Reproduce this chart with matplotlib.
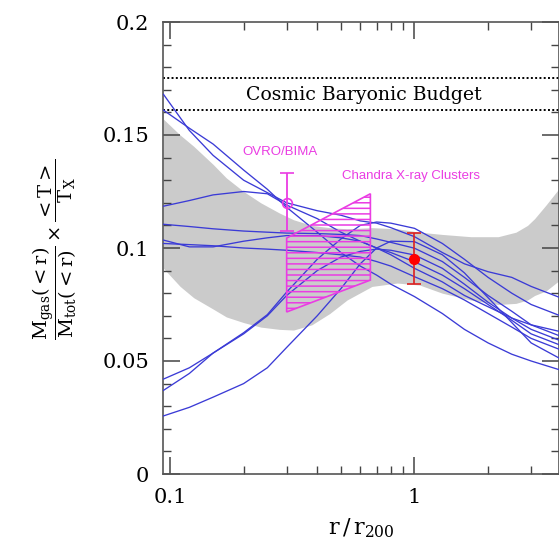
import numpy as np
import matplotlib.pyplot as plt
from matplotlib.ticker import FixedLocator, NullFormatter

r_grid = [0.094, 0.12, 0.15, 0.2, 0.25, 0.3, 0.4, 0.5, 0.6, 0.7, 0.8, 1.0,
          1.3, 1.6, 2.0, 2.5, 3.0, 3.95]

curve_a = [0.168, 0.152, 0.141, 0.130, 0.1245, 0.120, 0.1165, 0.1145, 0.112, 0.111, 0.109, 0.105,
           0.098, 0.093, 0.0895, 0.087, 0.083, 0.078]
curve_b = [0.161, 0.153, 0.146, 0.1345, 0.126, 0.118, 0.107, 0.098, 0.092, 0.088, 0.084, 0.0785,
           0.071, 0.064, 0.058, 0.053, 0.050, 0.046]
curve_c = [0.1185, 0.121, 0.1235, 0.125, 0.124, 0.119, 0.113, 0.107, 0.103, 0.100, 0.097, 0.091,
           0.085, 0.079, 0.074, 0.069, 0.066, 0.063]
curve_d = [0.1105, 0.1095, 0.1085, 0.1075, 0.107, 0.1066, 0.1064, 0.106, 0.1055, 0.104, 0.1025, 0.0999,
           0.094, 0.087, 0.079, 0.072, 0.066, 0.061]
curve_e = [0.1035, 0.1005, 0.1005, 0.103, 0.1045, 0.1055, 0.1055, 0.1045, 0.103, 0.100, 0.098, 0.0939,
           0.088, 0.082, 0.075, 0.068, 0.062, 0.057]
curve_f = [0.102, 0.1015, 0.101, 0.100, 0.0995, 0.099, 0.098, 0.097, 0.096, 0.094, 0.092, 0.0873,
           0.082, 0.077, 0.071, 0.065, 0.060, 0.055]
curve_g = [0.042, 0.047, 0.0535, 0.0625, 0.0705, 0.0805, 0.095, 0.104, 0.110, 0.1115, 0.111, 0.1087,
           0.102, 0.095, 0.087, 0.080, 0.075, 0.070]
curve_h = [0.037, 0.0445, 0.0535, 0.062, 0.070, 0.079, 0.090, 0.096, 0.0985, 0.0995, 0.099, 0.0969,
           0.091, 0.084, 0.076, 0.069, 0.064, 0.059]
curve_i = [0.0257, 0.0295, 0.034, 0.040, 0.047, 0.056, 0.070, 0.082, 0.093, 0.100, 0.103, 0.1028,
           0.097, 0.089, 0.078, 0.067, 0.058, 0.051]

# grey band
band_r = [0.094, 0.11, 0.125, 0.15, 0.17, 0.2, 0.235, 0.28, 0.32, 0.38, 0.45, 0.53, 0.67, 0.85,
          1.05, 1.3, 1.7, 2.2, 2.6, 2.9, 3.1, 3.45, 3.95]
band_hi = [0.157, 0.150, 0.145, 0.137, 0.131, 0.125, 0.120, 0.1155, 0.1125, 0.110, 0.109, 0.1085,
           0.109, 0.1085, 0.107, 0.106, 0.105, 0.105, 0.107, 0.110, 0.113, 0.119, 0.127]
band_lo = [0.091, 0.083, 0.078, 0.073, 0.0695, 0.067, 0.065, 0.064, 0.0637, 0.066, 0.071, 0.077,
           0.083, 0.0845, 0.0836, 0.080, 0.077, 0.075, 0.0755, 0.077, 0.079, 0.081, 0.086]

# Chandra X-ray clusters region
chandra_r = [0.30, 0.66, 0.66, 0.30]
chandra_f = [0.1044, 0.124, 0.0858, 0.0717]

# OVRO/BIMA point
ovro_r, ovro_f, ovro_lo, ovro_hi = 0.30, 0.120, 0.0125, 0.013
# red point
red_r, red_f, red_lo, red_hi = 1.0, 0.095, 0.011, 0.0116

baryon_lo, baryon_hi = 0.161, 0.1752

magenta = '#ea3ce3'
blue = '#3b3bd6'

plt.rcParams['mathtext.fontset'] = 'dejavuserif'
plt.rcParams['hatch.linewidth'] = 1.1

fig = plt.figure(figsize=(5.59, 5.44), dpi=100)
ax = fig.add_axes([163/559, 1-474/544, 1-163/559, (474-22)/544])

ax.fill_between(band_r, band_lo, band_hi, color='#cbcbcb', lw=0, zorder=1)

for c in [curve_a, curve_b, curve_c, curve_d, curve_e, curve_f, curve_g, curve_h, curve_i]:
    ax.plot(r_grid, c, color=blue, lw=0.95, zorder=3)

ax.fill(chandra_r, chandra_f, facecolor='none', edgecolor=magenta, hatch='---', lw=1.2, zorder=4)

ax.errorbar([ovro_r], [ovro_f], yerr=[[ovro_lo], [ovro_hi]], fmt='o', mfc='none', mec=magenta,
            ms=7, mew=1.2, ecolor=magenta, elinewidth=1.3, capsize=5, capthick=1.3, zorder=5)
ax.errorbar([red_r], [red_f], yerr=[[red_lo], [red_hi]], fmt='o', color='red', ms=7,
            ecolor='#dd2020', elinewidth=1.2, capsize=5, capthick=1.2, zorder=5)

ax.axhline(baryon_hi, color='black', ls=(0, (1, 1.2)), lw=1.4, zorder=2)
ax.axhline(baryon_lo, color='black', ls=(0, (1, 1.2)), lw=1.4, zorder=2)
ax.text(0.62, 0.1675, 'Cosmic Baryonic Budget', family='DejaVu Serif', fontsize=13.6,
        ha='center', va='center')

ax.text(0.198, 0.1425, 'OVRO/BIMA', family='Liberation Sans', fontsize=9.5, color=magenta,
        ha='left', va='center')
ax.text(0.504, 0.132, 'Chandra X-ray Clusters', family='Liberation Sans', fontsize=9.5,
        color=magenta, ha='left', va='center')

ax.set_xscale('log')
ax.set_xlim(0.0936, 3.9)
ax.set_ylim(0, 0.2)

ax.xaxis.set_major_locator(FixedLocator([0.1, 1]))
ax.xaxis.set_minor_locator(FixedLocator([0.2, 0.3, 0.4, 0.5, 0.6, 0.7, 0.8, 0.9, 2, 3]))
ax.xaxis.set_minor_formatter(NullFormatter())
ax.set_xticklabels(['0.1', '1'])
ax.set_yticks([0, 0.05, 0.1, 0.15, 0.2])
ax.set_yticklabels(['0', '0.05', '0.1', '0.15', '0.2'])
ax.yaxis.set_minor_locator(FixedLocator(np.arange(0, 0.2001, 0.01)))

for s in ax.spines.values():
    s.set_color('#555555')
    s.set_linewidth(1.2)
ax.tick_params(which='both', direction='in', top=True, right=True, color='#444444')
ax.tick_params(which='major', length=12, width=1.1, labelsize=15, pad=10)
ax.tick_params(which='minor', length=6, width=1.0)
for lab in ax.get_xticklabels() + ax.get_yticklabels():
    lab.set_family('DejaVu Serif')

fig.text(361/559, 1-528/544, r'$\mathrm{r\,/\,r_{200}}$', fontsize=16, ha='center', va='center')
fig.text(55/559, 1-249/544,
         r'$\dfrac{\mathrm{M_{gas}(<r)}}{\mathrm{M_{tot}(<r)}}\times\dfrac{\mathrm{<T>}}{\mathrm{T_X}}$',
         fontsize=14, rotation=90, ha='center', va='center')

fig.savefig('out.png', dpi=100)
